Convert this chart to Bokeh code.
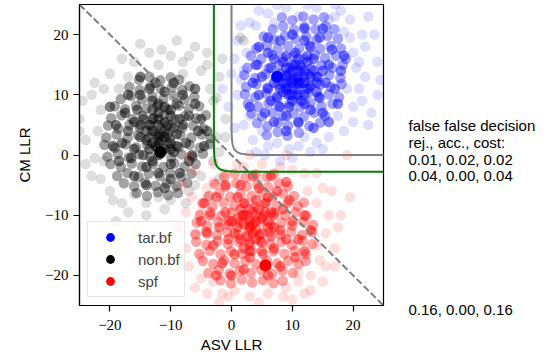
import numpy as np
from bokeh.plotting import figure
from bokeh.layouts import row
from bokeh.models import (Label, Legend, LegendItem, FixedTicker, CustomJSTickFormatter, Range1d)
from bokeh.embed import file_html
from bokeh.resources import INLINE

# ---------------- data ----------------
tar_core = [(10,12),(11,13),(9,13),(12,12),(10,14),(11,11),(9,11),(12,14),(10.5,12.5),(8.5,12),
            (11.5,14.5),(12.5,11),(9.5,10),(10,15),(13,13),(8,13.5),
            (7,12),(14,12),(10,9),(11,16),(7.5,9.5),(13.5,16),(6.5,14.5),(14.5,9.5),(12,8.5),(9,16.5),
            (15,14),(6,11),(8,8),(13,18),(11.5,9),(8.5,15.5),(14,10.5),(7,16),(15.5,12),(9.5,8),
            (12.5,15.5),(6.5,9),(13,7.5),(10.5,17),
            (5,13),(16,15),(9,6.5),(12,19),(4.5,10),(17,11),(6,17),(15,7),(11,5.5),(8,19),(16.5,17.5),
            (4,15),(13.5,4.5),(5.5,7),(10,20),(17.5,8.5),(7,5.5),(14.5,19.5),(3.5,12),(18,14),(6,19.5),
            (16,5.5),(12,21),(3,8),(9,4),(18.5,16.5),(4.5,18),(15,21),
            (10,11),(11,12),(9.5,13.5),(11,14),(12,13),(8.5,10.5),(13,11.5),(10,12.5),(11.5,12),(9,12),
            (12,10),(10.5,15),(8,11),(13.5,14),(7.5,13),(11,10),(12.5,16.5),(9,14.5),(14,13),(10,10)]
tar_mid = [(5.8,3.3),(7.6,3.8),(9.2,3.2),(11.1,3.7),
           (4.2,5.3),(5.9,4.8),(7.7,5.4),(9.3,4.9),(11.0,5.3),(12.8,4.8),(14.6,5.4),
           (3.3,6.9),(5.0,6.4),(6.8,7.0),(8.4,6.5),(10.2,6.9),(11.9,6.4),(13.6,7.0),(15.4,6.5),
           (2.7,8.5),(4.4,8.0),(6.1,8.6),(7.8,8.1),(9.6,8.5),(11.3,8.0),(13.0,8.6),(14.8,8.1),(16.6,8.5),
           (2.2,10.1),(3.9,9.6),(5.7,10.2),(7.4,9.7),(9.1,10.1),(10.8,9.6),(12.6,10.2),(14.3,9.7),(16.0,10.1),(17.7,9.6),
           (2.4,11.3),(4.1,11.8),(5.9,11.2),(7.6,11.7),(9.4,11.3),(11.1,11.8),(12.8,11.2),(14.6,11.7),(16.3,11.3),(18.1,11.8),
           (2.1,13.3),(3.9,12.8),(5.6,13.4),(7.3,12.9),(9.1,13.3),(10.9,12.8),(12.6,13.4),(14.3,12.9),(16.1,13.3),(17.9,12.8),
           (2.6,14.5),(4.3,15.0),(6.1,14.4),(7.8,14.9),(9.6,14.5),(11.3,15.0),(13.1,14.4),(14.8,14.9),(16.6,14.5),(18.3,15.0),
           (3.2,16.5),(4.9,16.0),(6.7,16.6),(8.4,16.1),(10.2,16.5),(11.9,16.0),(13.7,16.6),(15.4,16.1),(17.2,16.5),(18.8,16.0),
           (4.1,17.7),(5.8,18.2),(7.6,17.6),(9.3,18.1),(11.1,17.7),(12.8,18.2),(14.6,17.6),(16.3,18.1),(18.0,17.7),
           (5.3,19.7),(7.0,19.2),(8.8,19.8),(10.5,19.3),(12.3,19.7),(14.0,19.2),(15.8,19.8),(17.5,19.3),
           (6.8,20.9),(8.5,21.4),(10.3,20.8),(12.0,21.3),(13.8,20.9),(15.5,21.4),(16.9,20.9),
           (8.3,22.9),(10.0,22.4),(11.8,23.0),(13.5,22.5),(15.2,22.9)]
tar_fringe = [(2,14),(1,10),(0.5,16),(-1.5,11),(2,5),(3.5,2.5),(7.5,2),(5.5,0),(8,-1),(11,1.5),(14,2),
              (18.5,4),(20,8),(24,10),(22,13),(24,15.5),(21.5,20),(22.5,23),(18,24),(14,24.5),(9,24.5),
              (6,23.5),(3,22),(1,19),(17,23),(20,17),(19,11),(16,3),(12,3),(5,4),(2.5,17),(4,21.5),
              (7,22),(11,23),(16,22.5),(19.5,19.5),(21,11),(20,5.5),(3,6.5),(1.5,12.5),(6,1.5),
              (10,-0.5),(13,0.5),(23,7),(22,18),
              (20.5,14.5),(21.5,9),(19.5,22.5),(23.5,20),(17,25),(12.5,25),(7.5,25),(4.5,24),(1.5,21.5),
              (0,13.5),(-0.5,8),(0.5,4.5),(4,0.5),(9.5,1),(15,1),(17.5,6.5),(21,15.5),(18.5,20.5),
              (22.5,5),(24.5,12.5)]

non_core = [(-12,3),(-11,4),(-13,2),(-12,5),(-10,2),(-14,4),(-11,1),(-13,6),(-12.5,3.5),(-10.5,5),
            (-13.5,1),(-11.5,2.5),(-9,3.5),(-15,3),(-12,7),(-12,0),(-10,6.5),(-14.5,6),(-9.5,0.5),
            (-16,1),(-13,-1),(-8,5),(-15.5,7.5),(-11,8),(-7.5,2),(-17,4),(-14,-2),(-10,-1.5),
            (-16.5,-0.5),(-9,8.5),(-13,9),(-7,6.5),(-18,2),(-12,-3),(-6.5,0),(-15,10),(-8.5,-3),
            (-17.5,7),(-11,10.5),(-5.5,4),(-16,-3.5),(-13.5,11),(-6,8.5),(-19,5),(-10,-4),(-8,10),
            (-18.5,-1),(-14,-5),(-4.5,1.5),(-12.5,12),(-7,-1),(-17,10),(-9.5,12),(-5,6),(-19.5,1.5),
            (-11,-5.5),(-15,13),(-6,11),(-20,8),(-4,4),
            (-12,2),(-11,3),(-13,4),(-12,6),(-10.5,3.5),(-13.5,5),(-11.5,0.5),(-10,1),(-14,2.5),
            (-12.5,1.5),(-11,5.5),(-9.5,4.5),(-13,7.5),(-15,5),(-9,1.5),(-12,8.5),(-14.5,0),(-10,7.5),
            (-16,5.5),(-8.5,6)]
non_mid = [(-15.6,-6.3),(-13.9,-6.8),(-12.1,-6.2),(-10.4,-6.7),(-8.8,-6.3),
           (-17.7,-4.7),(-16.0,-5.2),(-14.2,-4.6),(-12.5,-5.1),(-10.7,-4.7),(-9.0,-5.2),(-7.3,-4.6),
           (-18.8,-3.5),(-17.1,-3.0),(-15.3,-3.6),(-13.6,-3.1),(-11.8,-3.5),(-10.1,-3.0),(-8.3,-3.6),(-6.6,-3.1),
           (-19.9,-1.5),(-18.2,-2.0),(-16.4,-1.4),(-14.7,-1.9),(-12.9,-1.5),(-11.2,-2.0),(-9.4,-1.4),(-7.7,-1.9),(-5.9,-1.5),
           (-20.4,-0.3),(-18.7,0.2),(-16.9,-0.4),(-15.2,0.1),(-13.4,-0.3),(-11.7,0.2),(-9.9,-0.4),(-8.2,0.1),(-6.4,-0.3),(-4.7,0.2),
           (-20.9,1.7),(-19.2,1.2),(-17.4,1.8),(-15.7,1.3),(-13.9,1.7),(-12.2,1.2),(-10.4,1.8),(-8.7,1.3),(-6.9,1.7),(-5.2,1.2),(-3.6,1.8),
           (-20.6,2.9),(-18.9,3.4),(-17.1,2.8),(-15.4,3.3),(-13.6,2.9),(-11.9,3.4),(-10.1,2.8),(-8.4,3.3),(-6.6,2.9),(-4.9,3.4),(-3.4,2.8),
           (-20.3,4.9),(-18.6,4.4),(-16.8,5.0),(-15.1,4.5),(-13.3,4.9),(-11.6,4.4),(-9.8,5.0),(-8.1,4.5),(-6.3,4.9),(-4.6,4.4),
           (-19.8,6.1),(-18.1,6.6),(-16.3,6.0),(-14.6,6.5),(-12.8,6.1),(-11.1,6.6),(-9.3,6.0),(-7.6,6.5),(-5.8,6.1),(-4.2,6.6),
           (-19.2,8.1),(-17.5,7.6),(-15.7,8.2),(-14.0,7.7),(-12.2,8.1),(-10.5,7.6),(-8.7,8.2),(-7.0,7.7),(-5.3,8.1),
           (-18.2,9.3),(-16.5,9.8),(-14.7,9.2),(-13.0,9.7),(-11.2,9.3),(-9.5,9.8),(-7.7,9.2),(-6.1,9.7),
           (-16.8,11.3),(-15.1,10.8),(-13.3,11.4),(-11.6,10.9),(-9.8,11.3),(-8.1,10.8),(-6.9,11.4),
           (-15.2,12.5),(-13.5,13.0),(-11.7,12.4),(-10.0,12.9),(-8.6,12.5)]
non_fringe = [(-13.5,17),(-11.5,17.5),(-6,18),(-10,16.5),(-8,15.5),(-17,13),(-18.5,11),(-21.5,7.5),
              (-24,2.5),(-24,-1.5),(-21.5,-4),(-19.5,-7.5),(-18,-8),(-14,-8),(-9.5,-5.5),(-19,-11),
              (-3,9),(-2,13),(-4,15),(-1,6),(-2.5,3),(-3,-1),(-5,-3.5),(-7,-6),(-12,-7),(-16,-6.5),
              (-22,4),(-23,10),(-20,13.5),(-16,15.5),(-12,15),(-8,13.5),(-3.5,11),(-1.5,16),(-14,-10),
              (-25,6),(-21,-1),(-6,-5),(-2,0.5),(-4,17),(1.5,19.5),(2,19),
              (-22.5,12),(-24.5,9),(-25,4),(-23,-3.5),(-20,-6),(-17,-9.5),(-11,-9),(-7.5,-8),(-4,-7),
              (-2,-4),(-1,3),(-2.5,9.5),(-5,14),(-7,16.5),(-9,19),(-15,18.5),(-18,16),(-21,11),
              (-22.5,-0.5),(-10,-7.5)]

spf_core = [(3,-12),(4,-11),(2,-10),(5,-13),(3,-9),(4,-14),(1,-12),(6,-11),(3.5,-11.5),(2.5,-13.5),
            (5.5,-9.5),(1.5,-9),(6.5,-13.5),(0,-11),(4,-7.5),(7,-10),(2,-15.5),(5,-16),(-0.5,-14),
            (8,-12.5),(1,-7),(6,-7),(-1,-9.5),(3,-17),(8.5,-9),(-2,-12),(7,-15.5),(0.5,-16.5),(9,-14),
            (4.5,-5.5),(-2.5,-7),(1.5,-5),(10,-11),(-3,-15),(5.5,-18.5),(7.5,-6),(-1.5,-18),(9.5,-7.5),
            (2,-19),(11,-14),(-3.5,-10),(6,-20),(-1,-5),(10.5,-17),(-4,-13),(3.5,-3.5),(8,-18.5),
            (0,-20),(12,-10),(-4.5,-8),(12,-16),(-2.5,-20),(9,-4.5),(6.5,-3.5),(-5,-11),(13,-12.5),
            (3,-11),(4,-12.5),(2,-11.5),(5,-10.5),(3.5,-13),(2.5,-10),(4.5,-9),(1,-10.5),(6,-12),
            (3,-14.5),(5,-14.5),(0.5,-13),(4,-10),(2,-8),(7,-12),(1.5,-14),(5.5,-8),(6.5,-9.5),
            (-0.5,-11),(3,-16)]
spf_mid = [(-1.8,-20.8),(-0.1,-21.3),(1.7,-20.7),(3.4,-21.2),(5.2,-20.8),(6.9,-21.3),(8.4,-20.9),
           (-3.8,-19.6),(-2.1,-19.1),(-0.3,-19.7),(1.4,-19.2),(3.2,-19.6),(4.9,-19.1),(6.7,-19.7),(8.4,-19.2),(10.1,-19.6),
           (-4.7,-17.6),(-3.0,-18.1),(-1.2,-17.5),(0.5,-18.0),(2.3,-17.6),(4.0,-18.1),(5.8,-17.5),(7.5,-18.0),(9.3,-17.6),(11.0,-18.1),(12.2,-17.6),
           (-5.3,-16.4),(-3.6,-15.9),(-1.8,-16.5),(-0.1,-16.0),(1.7,-16.4),(3.4,-15.9),(5.2,-16.5),(6.9,-16.0),(8.7,-16.4),(10.4,-15.9),(12.2,-16.5),
           (-5.8,-14.4),(-4.1,-14.9),(-2.3,-14.3),(-0.6,-14.8),(1.2,-14.4),(2.9,-14.9),(4.7,-14.3),(6.4,-14.8),(8.2,-14.4),(9.9,-14.9),(11.7,-14.3),(13.3,-14.8),
           (-5.9,-13.2),(-4.2,-12.7),(-2.4,-13.3),(-0.7,-12.8),(1.1,-13.2),(2.8,-12.7),(4.6,-13.3),(6.3,-12.8),(8.1,-13.2),(9.8,-12.7),(11.6,-13.3),(13.3,-12.8),
           (-5.7,-11.2),(-4.0,-11.7),(-2.2,-11.1),(-0.5,-11.6),(1.3,-11.2),(3.0,-11.7),(4.8,-11.1),(6.5,-11.6),(8.3,-11.2),(10.0,-11.7),(11.8,-11.1),(13.4,-11.6),
           (-5.2,-10.0),(-3.5,-9.5),(-1.7,-10.1),(0.0,-9.6),(1.8,-10.0),(3.5,-9.5),(5.3,-10.1),(7.0,-9.6),(8.8,-10.0),(10.5,-9.5),(12.3,-10.1),
           (-4.8,-8.0),(-3.1,-8.5),(-1.3,-7.9),(0.4,-8.4),(2.2,-8.0),(3.9,-8.5),(5.7,-7.9),(7.4,-8.4),(9.2,-8.0),(10.9,-8.5),(11.9,-7.9),
           (-3.7,-6.8),(-2.0,-6.3),(-0.2,-6.9),(1.5,-6.4),(3.3,-6.8),(5.0,-6.3),(6.8,-6.9),(8.5,-6.4),(10.3,-6.8),
           (-2.7,-4.8),(-1.0,-5.3),(0.8,-4.7),(2.5,-5.2),(4.3,-4.8),(6.0,-5.3),(7.8,-4.7),(9.3,-5.2),
           (-1.2,-3.6),(0.5,-3.1),(2.3,-3.7),(4.0,-3.2),(5.8,-3.6),(7.0,-3.1)]
spf_fringe = [(19.5,-7),(15.5,-18.5),(17,-15.5),(14,-15),(9,-22),(8.5,-23.5),(3,-23.5),(0.5,-22.5),
              (-4,-23),(15.5,-13),(15,-5.5),(-7.5,-9.5),(-6.5,-7),(-3,-4.5),(-5,-20.5),(-1.5,-23),
              (-0.5,-23.5),(-7,-18.5),(-7.5,-15.5),(2,-2),(5,-1.5),(8,-2),(-1,-3),(-7,-0.3),(19,0),
              (12,-3),(14,-8),(13,-20),(11,-21),(-6,-13),(-5,-17),(16,-10),(10,-2.5),(6,-23),
              (-3,-21),(17.5,-12),(12.5,-6),(-4,-5.5),(1,-1.5),(11,-19.5),
              (-6,-2.5),(-8,-5),(-9,-12),(-8.5,-17),(-6,-22),(-2,-24.5),(4.5,-24.5),(10,-24),
              (13,-22.5),(15,-21),(17,-18.5),(18,-10),(16.5,-6),(14,-3),(9,0),(3,0),(-3,-1.5),
              (-5,-9.5),(14.5,-17.5),(12,-23)]

# highlighted example points
tar_example = (7.5, 13.0)
non_example = (-11.7, 0.5)
spf_example = (5.6, -18.3)

class_names = ["tar.bf", "non.bf", "spf"]
class_colors = ["#0000ff", "#000000", "#ff0000"]

# decision boundaries: thresholds (ASV, CM) of the two rounded boundaries
gray_thr = (0.0, 0.0)
green_thr = (-2.9, -2.8)
softness = 1.0

# error rates: false rej., false acc., decision cost
rows_gray = (0.01, 0.02, 0.02)
rows_green = (0.04, 0.00, 0.04)
rows_diag = (0.16, 0.00, 0.16)
header_lines = ["false false decision", "rej., acc., cost:"]

x_ticks = [-20, -10, 0, 10, 20]
y_ticks = [-20, -10, 0, 10, 20]
lim = 25

# ---------------- layout constants (pixels) ----------------
FW, FH = 304, 301
B_LEFT, B_RIGHT, B_TOP, B_BOTTOM = 79, 5, 4, 50
SIDE_W = 158

p = figure(frame_width=FW, frame_height=FH, x_range=Range1d(-lim, lim), y_range=Range1d(-lim, lim),
           output_backend="svg", toolbar_location=None,
           min_border_left=B_LEFT, min_border_right=B_RIGHT, min_border_top=B_TOP,
           min_border_bottom=B_BOTTOM)
p.grid.visible = False
p.outline_line_color = "black"
p.outline_line_width = 1.2

def xy(pts):
    a = np.array(pts, dtype=float)
    return a[:, 0], a[:, 1]

fmt = CustomJSTickFormatter(code="return tick < 0 ? '\\u2212' + Math.abs(tick) : tick.toString();")
for ax, ticks, lab in ((p.xaxis[0], x_ticks, "ASV LLR"), (p.yaxis[0], y_ticks, "CM LLR")):
    ax.ticker = FixedTicker(ticks=ticks)
    ax.formatter = fmt
    ax.major_tick_in = 0
    ax.major_tick_out = 6
    ax.minor_tick_out = 0
    ax.minor_tick_in = 0
    ax.axis_line_width = 1.2
    ax.major_tick_line_width = 1.2
    ax.major_label_text_font = "Liberation Serif"
    ax.major_label_text_font_size = "15px"
    ax.major_label_text_color = "black"
    ax.axis_label = lab
    ax.axis_label_text_font = "Liberation Sans"
    ax.axis_label_text_font_size = "15px"
    ax.axis_label_text_font_style = "normal"
    ax.axis_label_text_color = "black"
p.xaxis.major_label_standoff = 8
p.xaxis.axis_label_standoff = 3
p.yaxis.major_label_standoff = 5
p.yaxis.axis_label_standoff = 9

# point clouds
for (core, mid, fringe, col) in ((tar_core, tar_mid, tar_fringe, class_colors[0]),
                                 (non_core, non_mid, non_fringe, class_colors[1]),
                                 (spf_core, spf_mid, spf_fringe, class_colors[2])):
    for pts, a in ((fringe, 0.13), (mid, 0.36), (core, 0.5)):
        sx, sy = xy(pts)
        p.scatter(sx, sy, size=10.5, fill_color=col, fill_alpha=a, line_color=None)

# example points
hi_renderers = []
for pt, col in zip((tar_example, non_example, spf_example), class_colors):
    hi_renderers.append(p.scatter([pt[0]], [pt[1]], size=12, fill_color=col, line_color=None))

# boundaries
def rounded(thr, k):
    v = np.linspace(40, k * np.log(2), 300)
    u = -k * np.log(1 - np.exp(-v / k))
    uu = np.concatenate([u, v[::-1]])
    vv = np.concatenate([v, u[::-1]])
    return thr[0] + uu, thr[1] + vv

dx = np.array([-lim, lim], dtype=float)
p.line(dx, -dx, line_color="#7f7f7f", line_width=2, line_dash="7 3")
gx, gy = rounded(green_thr, softness)
p.line(gx, gy, line_color="#008000", line_width=2)
kx, ky = rounded(gray_thr, softness)
p.line(kx, ky, line_color="#808080", line_width=2)

# legend
items = [LegendItem(label=n, renderers=[r]) for n, r in zip(class_names, hi_renderers)]
leg = Legend(items=items, location="bottom_left")
leg.label_text_font = "Liberation Sans"
leg.label_text_font_size = "15px"
leg.glyph_width = 36
leg.glyph_height = 22
leg.label_height = 22
leg.spacing = 0
leg.padding = 4
leg.label_standoff = 10
leg.margin = 8
leg.border_line_color = "#cccccc"
leg.border_line_width = 1
leg.background_fill_alpha = 0.8
p.add_layout(leg)

# ---------------- side panel with the error-rate texts ----------------
px_per_unit = FH / (2 * lim)
side_top = lim + B_TOP / px_per_unit
side_bottom = -lim - B_BOTTOM / px_per_unit
side = figure(frame_width=SIDE_W, frame_height=B_TOP + FH + B_BOTTOM,
              x_range=Range1d(0, SIDE_W), y_range=Range1d(side_bottom, side_top),
              x_axis_type=None, y_axis_type=None, output_backend="svg", toolbar_location=None,
              min_border=0)
side.grid.visible = False
side.outline_line_color = None

def fmt_row(r):
    return ", ".join(f"{v:.2f}" for v in r)

text_x = 20
def add_text(txt, y, off=0):
    side.add_layout(Label(x=text_x, y=y, y_offset=off, text=txt, text_font="Liberation Sans",
                          text_font_size="15px", text_color="black", text_baseline="alphabetic"))

add_text(fmt_row(rows_gray), gray_thr[1])
for i, h in enumerate(reversed(header_lines)):
    add_text(h, gray_thr[1], 17 * (i + 1))
add_text(fmt_row(rows_green), green_thr[1])
add_text(fmt_row(rows_diag), -lim)

layout = row(p, side, spacing=0)
open("out.html", "w").write(file_html(layout, INLINE))
